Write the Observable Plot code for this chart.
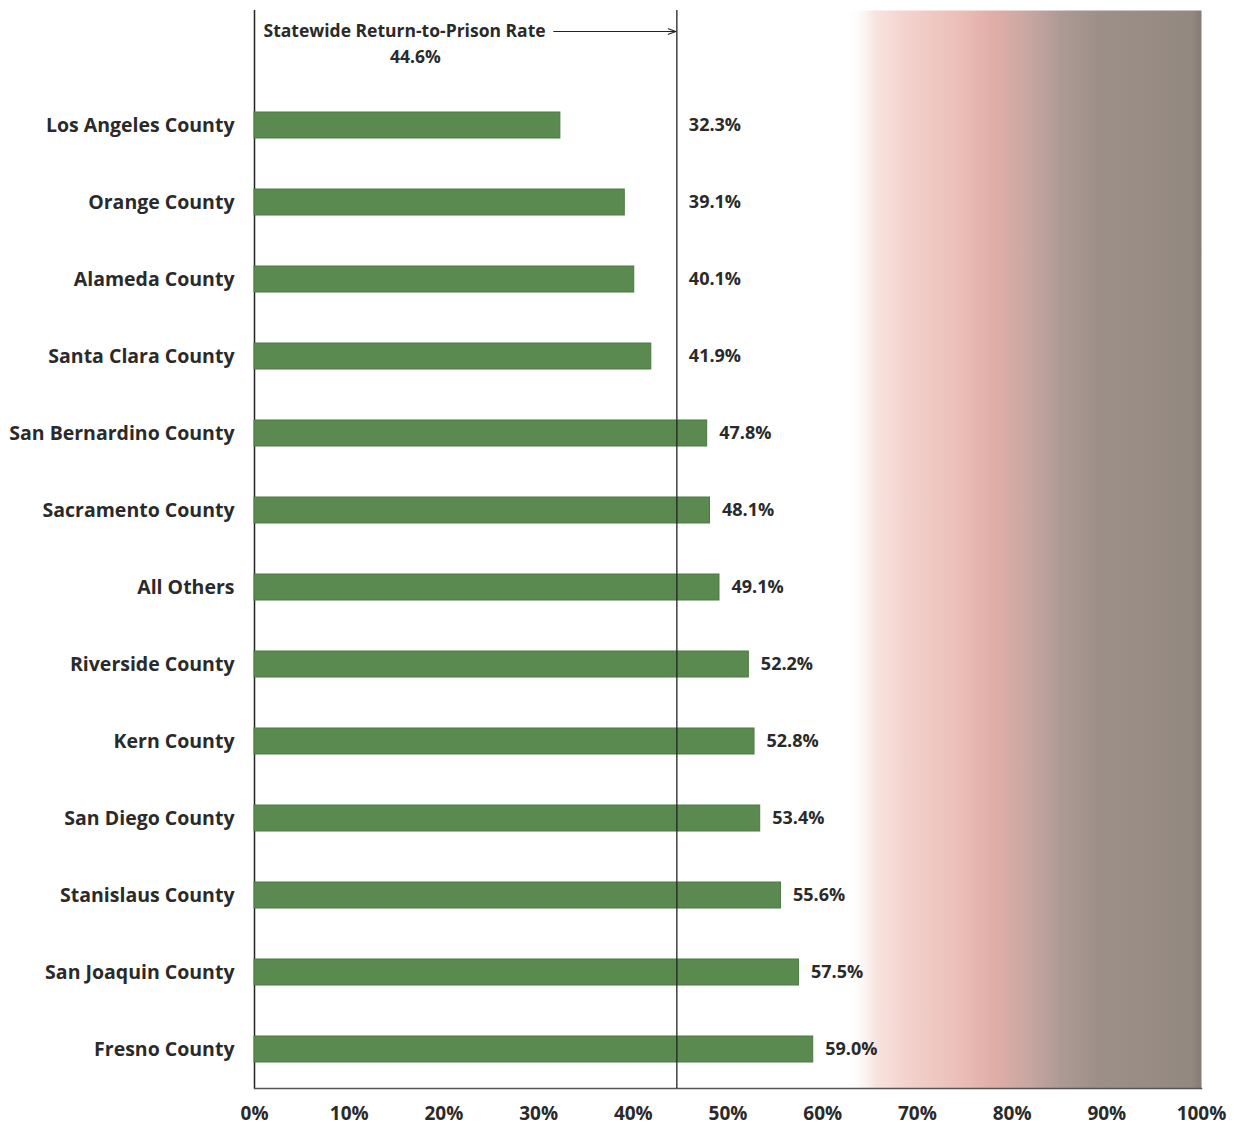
<!DOCTYPE html>
<html>
<head>
<meta charset="utf-8">
<script src="https://cdn.jsdelivr.net/npm/d3@7"></script>
<script src="https://cdn.jsdelivr.net/npm/@observablehq/plot@0.6"></script>
<style>
  html, body { margin: 0; padding: 0; background: #fff; }
  #chart svg { display: block; }
</style>
</head>
<body>
<div id="chart"></div>
<script>
// Return-to-prison rate by county, with the statewide rate as a reference line
const counties = [
  "Los Angeles County",
  "Orange County",
  "Alameda County",
  "Santa Clara County",
  "San Bernardino County",
  "Sacramento County",
  "All Others",
  "Riverside County",
  "Kern County",
  "San Diego County",
  "Stanislaus County",
  "San Joaquin County",
  "Fresno County"
];
const rates = [32.3, 39.1, 40.1, 41.9, 47.8, 48.1, 49.1, 52.2, 52.8, 53.4, 55.6, 57.5, 59.0];
const statewideRate = 44.6;
const statewideLabel = "Statewide Return-to-Prison Rate";
const xTicks = [0, 10, 20, 30, 40, 50, 60, 70, 80, 90, 100];

const rows = counties.map((county, i) => ({county, rate: rates[i]}));

// an empty first row leaves room for the statewide annotation
const headerRow = "";
const yDomain = [headerRow, ...counties];

const ink = "#2a2a2a";
const fmt = v => v.toFixed(1) + "%";

const chart = Plot.plot({
  width: 1234,
  height: 1131,
  marginTop: 10,
  marginBottom: 43,
  marginLeft: 254,
  marginRight: 33,
  style: {fontFamily: "'Open Sans', Lato, sans-serif", fontWeight: "bold", color: ink, background: "transparent"},
  x: {domain: [0, 100], ticks: xTicks, tickFormat: d => d + "%", label: null},
  y: {domain: yDomain, paddingInner: 0.66, paddingOuter: 0.33, label: null},
  marks: [
    Plot.frame({fill: "url(#shade)", stroke: "none"}),
    Plot.axisX({ticks: xTicks, tickFormat: d => d + "%", tickSize: 0, tickPadding: 18, fontSize: 19, fontWeight: "bold", label: null}),
    Plot.axisY({tickSize: 0, tickPadding: 20, fontSize: 19.5, fontWeight: "bold", label: null}),
    Plot.ruleX([0], {stroke: "#222", strokeWidth: 1.5}),
    Plot.frame({anchor: "bottom", stroke: "#555", strokeWidth: 1.5}),
    Plot.barX(rows, {x: "rate", y: "county", fill: "#5a8a4f", stroke: "#4a7a40", strokeWidth: 1}),
    Plot.ruleX([statewideRate], {stroke: "#222", strokeWidth: 1.3}),
    Plot.text(rows, {
      x: d => Math.max(d.rate, statewideRate),
      y: "county",
      text: d => fmt(d.rate),
      textAnchor: "start",
      dx: 12,
      fontSize: 18,
      fontWeight: "bold",
      fill: ink
    }),
    Plot.text([statewideLabel], {
      x: 0, y: () => headerRow, text: d => d,
      textAnchor: "start", dx: 9, dy: -17, fontSize: 17.5, fontWeight: "bold", fill: ink
    }),
    Plot.text([statewideRate], {
      x: 17, y: () => headerRow, text: d => fmt(d),
      textAnchor: "middle", dy: 9, fontSize: 17.5, fontWeight: "bold", fill: ink
    }),
    Plot.arrow([statewideRate], {
      x1: 31.6, x2: d => d, y1: () => headerRow, y2: () => headerRow,
      dy: -17, stroke: "#222", strokeWidth: 1.2, headLength: 10, headAngle: 40, insetEnd: 1
    })
  ]
});

// pink-to-grey shading across the right side of the plot area
const defs = d3.select(chart).insert("defs", ":first-child");
const grad = defs.append("linearGradient").attr("id", "shade").attr("x1", 0).attr("x2", 1).attr("y1", 0).attr("y2", 0);
[
  [0.00, "#ffffff", 0],
  [0.625, "#ffffff", 0],
  [0.655, "#f8e4e0", 1],
  [0.69, "#f3d1cc", 1],
  [0.74, "#ecc0b9", 1],
  [0.78, "#e0aea7", 1],
  [0.815, "#cba7a2", 1],
  [0.85, "#ae9a95", 1],
  [0.89, "#9d9089", 1],
  [0.99, "#938880", 1],
  [1.00, "#857a72", 1]
].forEach(([o, c, a]) => grad.append("stop").attr("offset", o).attr("stop-color", c).attr("stop-opacity", a));

document.getElementById("chart").appendChild(chart);
</script>
</body>
</html>
